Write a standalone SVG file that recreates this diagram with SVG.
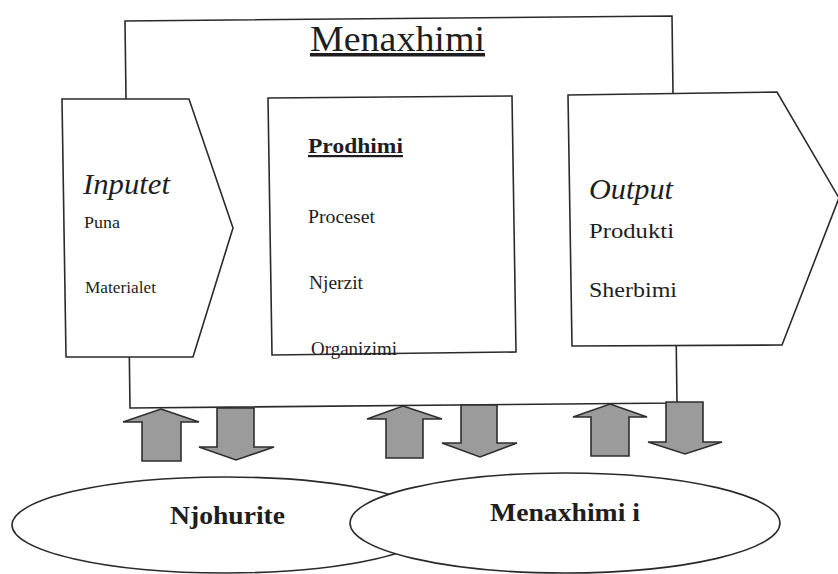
<svg xmlns="http://www.w3.org/2000/svg" width="838" height="574" viewBox="0 0 838 574">
<style>
.shape{fill:#fff;stroke:#2a2a2a;stroke-width:1.6;stroke-linejoin:miter}
.arrow{fill:#9b9b9b;stroke:#2e2e2e;stroke-width:1.6;stroke-linejoin:miter}
text{font-family:"Liberation Serif","Times New Roman",serif;fill:#1e1e1e}
.it{font-style:italic}
.b{font-weight:bold}
.u{text-decoration:underline}
</style>
<rect width="838" height="574" fill="#fff"/>
<g id="menaxhimi">
<polygon class="shape" points="125,21 672,16 677,403 130,408"/>
<text x="310" y="51" font-size="35" class="u" textLength="175" lengthAdjust="spacingAndGlyphs">Menaxhimi</text>
</g>
<g id="inputet">
<polygon class="shape" points="62,99 189,99 233,228 193,357 66,357"/>
<text x="83" y="194" font-size="29" class="it" textLength="87" lengthAdjust="spacingAndGlyphs">Inputet</text>
<text x="84" y="228" font-size="17" textLength="36" lengthAdjust="spacingAndGlyphs">Puna</text>
<text x="85" y="293" font-size="17" textLength="71" lengthAdjust="spacingAndGlyphs">Materialet</text>
</g>
<g id="prodhimi">
<polygon class="shape" points="268,98 512,96 516,352 272,355"/>
<text x="308" y="153" font-size="22" class="b u" textLength="95" lengthAdjust="spacingAndGlyphs">Prodhimi</text>
<text x="308" y="223" font-size="19" textLength="67" lengthAdjust="spacingAndGlyphs">Proceset</text>
<text x="309" y="289" font-size="19" textLength="54" lengthAdjust="spacingAndGlyphs">Njerzit</text>
<text x="311" y="355" font-size="19" textLength="86" lengthAdjust="spacingAndGlyphs">Organizimi</text>
</g>
<g id="output">
<polygon class="shape" points="568,95 777,92 839,198 782,345 572,346"/>
<text x="589" y="199" font-size="29" class="it" textLength="84" lengthAdjust="spacingAndGlyphs">Output</text>
<text x="589" y="238" font-size="22" textLength="85" lengthAdjust="spacingAndGlyphs">Produkti</text>
<text x="589" y="297" font-size="22" textLength="88" lengthAdjust="spacingAndGlyphs">Sherbimi</text>
</g>
<g id="connectors">
<path class="arrow" d="M161,409 L199,422 L181,422 L181,461 L142,461 L142,422 L123,422 Z"/>
<path class="arrow" d="M217,408 L254,408 L254,447 L274,447 L236,460 L199,447 L217,447 Z"/>
<path class="arrow" d="M403,406 L442,419 L423,419 L423,458 L386,458 L386,419 L367,419 Z"/>
<path class="arrow" d="M461,405 L497,405 L497,443 L517,443 L480,457 L442,443 L461,443 Z"/>
<path class="arrow" d="M610,404 L647,417 L629,417 L629,456 L591,456 L591,417 L573,417 Z"/>
<path class="arrow" d="M666,402 L703,402 L703,442 L722,442 L685,454 L648,442 L666,442 Z"/>
</g>
<g id="njohurite">
<ellipse class="shape" cx="225" cy="525" rx="213" ry="48"/>
<text x="170" y="524" font-size="25" class="b" textLength="115" lengthAdjust="spacingAndGlyphs">Njohurite</text>
</g>
<g id="menaxhimi-i">
<ellipse class="shape" cx="565" cy="523" rx="215" ry="50"/>
<text x="490" y="521" font-size="25" class="b" textLength="150" lengthAdjust="spacingAndGlyphs">Menaxhimi i</text>
</g>
</svg>
